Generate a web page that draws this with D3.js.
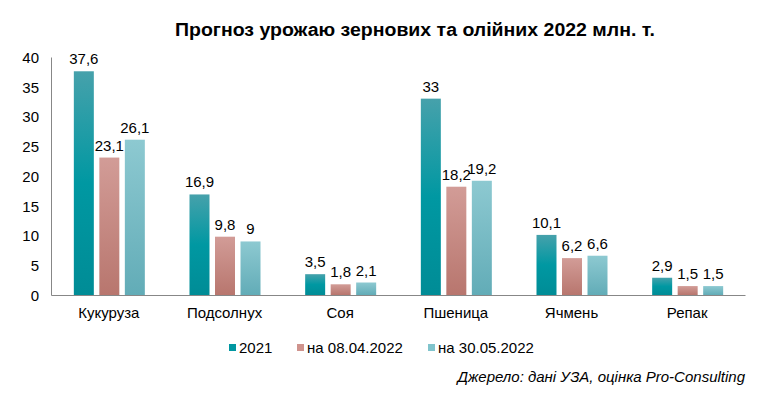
<!DOCTYPE html>
<html>
<head>
<meta charset="utf-8">
<script src="https://cdn.jsdelivr.net/npm/d3@7"></script>
<style>
  body { margin: 0; background: #fff; }
  text { font-family: "Liberation Sans", Arial, sans-serif; fill: #000; }
</style>
</head>
<body>
<svg id="chart" width="779" height="399"></svg>
<script>
var categories = ["Кукуруза", "Подсолнух", "Соя", "Пшеница", "Ячмень", "Репак"];
var seriesNames = ["2021", "на 08.04.2022", "на 30.05.2022"];
var v2021 = [37.6, 16.9, 3.5, 33, 10.1, 2.9];
var vApr = [23.1, 9.8, 1.8, 18.2, 6.2, 1.5];
var vMay = [26.1, 9, 2.1, 19.2, 6.6, 1.5];
var yTicks = [0, 5, 10, 15, 20, 25, 30, 35, 40];

var seriesValues = [v2021, vApr, vMay];
var legendColors = ["#0097a1", "#cf938d", "#80c4cc"];
var gradStops = [
  [["0%", "#46a1ab"], ["50%", "#0098a2"], ["100%", "#008c96"]],
  [["0%", "#d29c97"], ["100%", "#b8766e"]],
  [["0%", "#8dc9d1"], ["100%", "#62acb7"]]
];

var svg = d3.select("#chart");
var plotLeft = 51, plotRight = 745, plotTop = 57, plotBottom = 295;

var defs = svg.append("defs");
gradStops.forEach(function(stops, i) {
  var g = defs.append("linearGradient").attr("id", "grad" + i)
    .attr("x1", 0).attr("y1", 0).attr("x2", 0).attr("y2", 1);
  stops.forEach(function(s) {
    g.append("stop").attr("offset", s[0]).attr("stop-color", s[1]);
  });
});

var x = d3.scaleBand().domain(categories).range([plotLeft, plotRight]);
var xInner = d3.scaleBand().domain(d3.range(3)).range([-35, 36]).paddingInner(0.216);
var y = d3.scaleLinear().domain([0, 40]).range([plotBottom, plotTop]);

// title
svg.append("text")
  .attr("x", 175).attr("y", 36)
  .attr("textLength", 480).attr("lengthAdjust", "spacingAndGlyphs")
  .style("font-size", "18px").style("font-weight", "bold")
  .text("Прогноз урожаю зернових та олійних 2022 млн. т.");

// y axis
var yAxis = svg.append("g")
  .attr("transform", "translate(" + plotLeft + ",0)")
  .call(d3.axisLeft(y).tickValues(yTicks).tickSize(0).tickPadding(12));
yAxis.select(".domain").attr("stroke", "#878787");
yAxis.selectAll("text").style("font-size", "15px").attr("dy", "0.36em");

// x axis
var xAxis = svg.append("g")
  .attr("transform", "translate(0," + plotBottom + ")")
  .call(d3.axisBottom(x).tickSize(0).tickPadding(12));
xAxis.select(".domain").attr("stroke", "#878787");
xAxis.selectAll("text").style("font-size", "15px");

// bars
categories.forEach(function(c, ci) {
  seriesValues.forEach(function(vals, si) {
    var bx = x(c) + x.bandwidth() / 2 + xInner(si);
    var v = vals[ci];
    svg.append("rect")
      .attr("x", bx).attr("y", y(v))
      .attr("width", xInner.bandwidth())
      .attr("height", y(0) - y(v))
      .attr("fill", "url(#grad" + si + ")");
    svg.append("text")
      .attr("x", bx + xInner.bandwidth() / 2).attr("y", y(v) - 7)
      .attr("text-anchor", "middle")
      .style("font-size", "15px")
      .text(String(v).replace(".", ","));
  });
});

// legend
var legendX = [229, 297, 428];
seriesNames.forEach(function(n, i) {
  svg.append("rect")
    .attr("x", legendX[i]).attr("y", 344)
    .attr("width", 7).attr("height", 7)
    .attr("fill", legendColors[i]);
  svg.append("text")
    .attr("x", legendX[i] + 10).attr("y", 353)
    .style("font-size", "15px")
    .text(n);
});

// source
svg.append("text")
  .attr("x", 745).attr("y", 382)
  .attr("text-anchor", "end")
  .style("font-size", "15px").style("font-style", "italic")
  .text("Джерело: дані УЗА, оцінка Pro-Consulting");
</script>
</body>
</html>
